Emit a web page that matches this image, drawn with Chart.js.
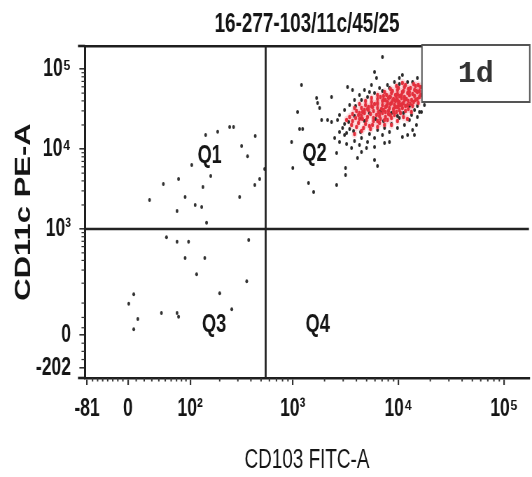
<!DOCTYPE html>
<html><head><meta charset="utf-8">
<script src="https://cdn.jsdelivr.net/npm/chart.js@4.4.1/dist/chart.umd.min.js"></script>
<style>
html,body{margin:0;padding:0;background:#fff;overflow:hidden;width:532px;height:477px}
#wrap{width:760px;height:477px;transform:scaleX(0.7);transform-origin:0 0}
</style>
</head><body>
<div id="wrap"><canvas id="c" width="760" height="477"></canvas></div>
<script>
// ---------- data (fluorescence values) ----------
const chartTitle = '16-277-103/11c/45/25';
const xAxisTitle = 'CD103 FITC-A';
const yAxisTitle = 'CD11c PE-A';
const panelTag = '1d';

const xTickValues = [-81, 0, 100, 1000, 10000, 100000];
const xTickLabels = ['-81', '0', '10²', '10³', '10⁴', '10⁵'];
const yTickValues = [-202, 0, 1000, 10000, 100000];
const yTickLabels = ['-202', '0', '10³', '10⁴', '10⁵'];
const xMinorValues = [-70,-60,-50,-40,-30,-20,-10,10,20,30,40,50,60,70,80,90,200,300,400,500,600,700,800,900,2000,3000,4000,5000,6000,7000,8000,9000,20000,30000,40000,50000,60000,70000,80000,90000];
const yMinorValues = [-150,-100,-50,20,50,100,200,300,400,500,600,700,800,900,2000,3000,4000,5000,6000,7000,8000,9000,20000,30000,40000,50000,60000,70000,80000,90000];
const xRange = [-85, 172000];
const yRange = [-263, 194000];
const gateX = 553;
const gateY = 1000;
const quadrantNames = ['Q1', 'Q2', 'Q3', 'Q4'];
const quadrantLabelAt = [[159, 8190], [1610, 8700], [176, 28], [1720, 28]];

const q1Events = [[145,15000],[191,16400],[250,18900],[273,18900],[440,14600],[326,10900],[372,8100],[541,5650],[485,4230],[436,3550],[312,2510],[104,6330],[163,4620],[74,4230],[47,3650],[136,3350],[88,2510],[27,2310],[71,1680],[113,2000],[132,1890],[148,1200]];
const q3Events = [[52,790],[71,690],[96,690],[381,727],[88,430],[142,430],[117,265],[365,213],[7,138],[200,143],[1,97],[12,45],[7,16],[44,64],[71,64],[74,52],[262,77]];
const q2Sparse = [[7060,141500],[1210,63200],[3300,59700],[3680,54750],[5940,91900],[6200,77300],[2330,44700],[1680,43500],[1720,37650],[1110,29070],[1795,32600],[2135,23080],[2330,21780],[1875,23080],[1160,17810],[1240,17810],[975,12250],[1000,5800],[1410,3770],[1575,2906],[2600,3550],[3160,4740],[3160,5800],[2600,8930],[4100,7730],[5935,7300],[6335,6140],[14160,15000],[10200,77300],[10900,84300],[13600,68900],[15100,77300]];
const q2Mid = [[3090,20570],[2960,18340],[3450,17820],[2770,16350],[3230,15880],[3760,16820],[4380,16350],
[4280,47400],[4770,54750],[3840,41050],[5320,51700],[3450,35550],[3090,30780],[2770,26660],[2650,23080],[6620,58000],[7880,63200],[9170,68900],[5560,63200],[4470,41050],[5100,44750],[3930,34540],[5940,50200],[7060,53200],[8220,58000],[10200,65100],[12200,68900],
[12700,23080],[11400,20000],[9790,18340],[8220,16350],[7060,15000],[5940,13750],[5100,12250],[4280,11240],[3600,10300],[15800,29060],[17600,35550],[10200,24450],[8590,20570],[7380,18340],[6340,17310],[5320,15430],[4470,13750],[3840,12600],[3230,11570],[2770,12250],[2490,13750],[3090,15000],
[14200,30780],[13300,26660],[15100,34540],[17200,43480],[16500,29060],[15100,25170],[13600,17310],[14800,20000],[10900,14150],[12200,15000],[8220,12250],[7380,11900],[5940,10600],[4990,10300],[4470,9190],
[5320,28240],[6760,29910],[4470,24450],[6070,23760],[8590,28240],[3840,25900],[3380,21790],[4770,22430],[7220,22430],[9790,25900],[11150,28240],[12700,34540]];
const q2Core = [[13900,65100],[15400,63200],
[11400,59700],[13000,58000],[14500,61400],[16100,59700],
[9790,54750],[11150,53200],[12400,56350],[14200,54750],[15800,53200],
[8590,50200],[9790,48800],[10900,51700],[12200,50200],[13600,48800],[15100,51700],[16900,50200],
[7220,46060],[8220,44750],[9370,47400],[10200,46060],[11400,44750],[12700,47400],[14200,46060],[15800,44750],
[6340,42250],[7220,41050],[8050,43480],[8970,42250],[9790,41050],[10700,43480],[11900,42250],[13300,41050],[15100,42250],
[5560,38750],[6340,37650],[7060,39890],[7880,38750],[8590,37650],[9370,39890],[10200,38750],[11150,37650],[12400,39890],[13900,38750],[15400,37650],
[4880,35550],[5560,34540],[6340,36590],[7060,35550],[7710,34540],[8400,36590],[9170,35550],[10000,34540],[10900,36590],[12200,35550],[13600,34540],
[4470,32610],[5100,31680],[5680,33560],[6340,32610],[6910,31680],[7540,33560],[8220,32610],[8970,31680],[9790,33560],[10900,32610],[12400,31680],
[4010,29910],[4570,29060],[5210,30780],[5810,29910],[6470,29060],[7220,30780],[8050,29910],[8970,29060],[10200,30780],[11650,29910],
[3680,27430],[4190,26660],[4770,28240],[5440,27430],[6200,26660],[7060,28240],[8050,27430],[9170,26660],[10450,28240],
[3450,25170],[3930,24450],[4470,25900],[5100,25170],[5810,24450],[6620,25900],[7540,25170],[8590,24450],
[4280,23760],[4990,23080],[5810,22430],[6760,23760],[7880,23080],
[8780,39890],[9580,43480],[10450,35550],[7880,36590],[9370,33560],[11400,41050],[8400,44750],[10000,37650],[7540,41050],[10700,47400],
[3600,20000],[4190,21170],[4880,20570],[5680,20000],[6620,21170],[4010,18880],[4670,18340],[5440,17820],[3680,22430],[3230,23080],
[6760,44750],[7710,47400],[8780,53200],[10000,58000],[11650,63200],[5940,36590],[5210,33560],[4770,30780],[4280,28240],
[7540,29060],[8400,26660],[9580,29060],[11650,34540],[12980,36590],[14470,41050],[16130,47400],[14790,53200],[12700,51700],
[6620,28240],[7380,23080],[6340,22430],[4570,23760],
[7380,51700],[6340,47400],[5560,43480],[4880,39890],[4280,36590],[3840,32610],[8400,56350],[9580,61400],[10900,67000],
[11150,25170],[9790,22430],[8590,20000],[7380,20000],[6340,18880],[5320,19430],[13270,29060],[12160,23760],[4470,16820],[3840,15430]];

// ---------- biexponential-style display transform ----------
function fx(v) { return v >= 0 ? 46 * Math.asinh(v / 55.2) : v * 41 / 81; }
function fy(v) { return v >= 0 ? 34.74 * Math.asinh(v / 94.8) : v * 33 / 202; }
const toPts = arr => arr.map(p => ({ x: fx(p[0]), y: fy(p[1]) }));

const SANS = "'Liberation Sans', Arial, sans-serif";
const INK = '#151515';
const SQUEEZE = 0.7;

const extras = {
  id: 'extras',
  afterDraw(chart) {
    const { ctx, chartArea: a, scales: { x, y } } = chart;
    ctx.save();
    // frame lines run a little past the left axis
    ctx.strokeStyle = '#1e1e1e';
    ctx.lineWidth = 2.6;
    [a.top, a.bottom].forEach(py => { ctx.beginPath(); ctx.moveTo(a.left - 10, py); ctx.lineTo(a.left, py); ctx.stroke(); });
    ctx.strokeStyle = '#333';
    ctx.lineWidth = 2;
    xMinorValues.forEach(v => {
      const px = x.getPixelForValue(fx(v));
      ctx.beginPath(); ctx.moveTo(px, a.bottom); ctx.lineTo(px, a.bottom + 3.5); ctx.stroke();
    });
    ctx.lineWidth = 1.2;
    yMinorValues.forEach(v => {
      const py = y.getPixelForValue(fy(v));
      ctx.beginPath(); ctx.moveTo(a.left, py); ctx.lineTo(a.left - 5, py); ctx.stroke();
    });
    // quadrant names
    ctx.fillStyle = INK;
    ctx.font = 'bold 26px ' + SANS;
    ctx.textAlign = 'center';
    ctx.textBaseline = 'middle';
    quadrantNames.forEach((n, i) => {
      const p = quadrantLabelAt[i];
      ctx.fillText(n, x.getPixelForValue(fx(p[0])), y.getPixelForValue(fy(p[1])));
    });
    // panel tag box
    const bx = a.right - 153, by = a.top - 1, bw = 154, bh = 57;
    ctx.fillStyle = '#fff';
    ctx.fillRect(bx, by, bw, bh);
    ctx.strokeStyle = '#555';
    ctx.lineWidth = 2;
    ctx.strokeRect(bx, by, bw, bh);
    ctx.fillStyle = '#333';
    ctx.font = "bold 30px 'Liberation Mono', 'DejaVu Sans Mono', monospace";
    ctx.translate(bx + bw / 2, by + bh / 2 + 1);
    ctx.scale(1 / SQUEEZE, 1);
    ctx.fillText(panelTag, 0, 0);
    ctx.restore();
  }
};

const xGrid = { display: true, drawOnChartArea: false, drawTicks: true, tickLength: 7, color: '#333', lineWidth: 2.2 };
const yGrid = { display: true, drawOnChartArea: false, drawTicks: true, tickLength: 8, color: '#333', lineWidth: 1.6 };

new Chart(document.getElementById('c'), {
  data: {
    datasets: [
      { type: 'line', data: [{ x: fx(gateX), y: fy(yRange[0]) }, { x: fx(gateX), y: fy(yRange[1]) }], borderColor: '#222', borderWidth: 2.8, pointRadius: 0 },
      { type: 'line', data: [{ x: fx(xRange[0]), y: fy(gateY) }, { x: fx(xRange[1]), y: fy(gateY) }], borderColor: '#222', borderWidth: 2.4, pointRadius: 0 },
      { type: 'scatter', data: toPts(q2Core), backgroundColor: '#e3303d', pointRadius: 2.2, borderWidth: 0 },
      { type: 'scatter', data: toPts(q2Mid), backgroundColor: '#2a2a2a', pointRadius: 2.0, borderWidth: 0 },
      { type: 'scatter', data: toPts(q2Sparse), backgroundColor: '#2a2a2a', pointRadius: 2.0, borderWidth: 0 },
      { type: 'scatter', data: toPts(q1Events), backgroundColor: '#333', pointRadius: 2.0, borderWidth: 0 },
      { type: 'scatter', data: toPts(q3Events), backgroundColor: '#333', pointRadius: 2.0, borderWidth: 0 },
      { type: 'scatter', data: toPts(q2Core), backgroundColor: 'rgba(240,110,120,0.2)', pointRadius: 4.2, borderWidth: 0 }
    ]
  },
  options: {
    responsive: false,
    animation: false,
    devicePixelRatio: 1,
    layout: { padding: { left: 0, right: 2.9, top: 0, bottom: 0 } },
    plugins: { legend: { display: false }, tooltip: { enabled: false }, title: { display: false } },
    scales: {
      x: {
        type: 'linear', position: 'bottom', min: fx(xRange[0]), max: fx(xRange[1]),
        afterBuildTicks: s => { s.ticks = xTickValues.map(v => ({ value: fx(v) })); },
        afterFit: s => { s.height = 99; },
        ticks: { autoSkip: false, maxRotation: 0, padding: 9, color: INK, font: { family: SANS, size: 25, weight: 'bold' }, callback: (v, i) => xTickLabels[i] },
        grid: xGrid, border: { display: true, color: '#1e1e1e', width: 2.6 },
        title: { display: true, text: xAxisTitle, color: INK, font: { family: SANS, size: 27 }, padding: { top: 0, bottom: 0 } }
      },
      xTop: {
        type: 'linear', position: 'top', min: fx(xRange[0]), max: fx(xRange[1]),
        afterFit: s => { s.height = 46; },
        ticks: { display: false }, grid: { display: false }, border: { display: true, color: '#1e1e1e', width: 2.6 },
        title: { display: true, text: chartTitle, color: INK, font: { family: SANS, size: 27, weight: 'bold' }, padding: { top: 8, bottom: 0 } }
      },
      y: {
        type: 'linear', position: 'left', min: fy(yRange[0]), max: fy(yRange[1]),
        afterBuildTicks: s => { s.ticks = yTickValues.map(v => ({ value: fy(v) })); },
        afterFit: s => { s.width = 121.4; },
        ticks: { autoSkip: false, padding: 12, color: INK, font: { family: SANS, size: 25, weight: 'bold' }, callback: (v, i) => yTickLabels[i] },
        grid: yGrid, border: { display: true, color: '#1e1e1e', width: 3 },
        title: { display: true, text: yAxisTitle, color: INK, font: { family: SANS, size: 31, weight: 'bold' }, padding: { top: 15.5, bottom: 0 } }
      }
    }
  },
  plugins: [extras]
});
</script>
</body></html>
